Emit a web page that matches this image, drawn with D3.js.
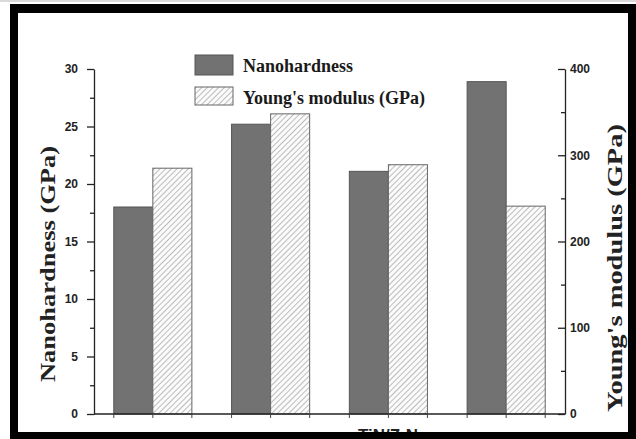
<!DOCTYPE html>
<html><head><meta charset="utf-8">
<script src="https://cdn.jsdelivr.net/npm/d3@7"></script>
<style>html,body{margin:0;padding:0;background:#fff;}svg{display:block;}</style>
</head><body>
<script>
const categories = ["A", "B", "C", "D"];
const nanohardness = [18.0, 25.2, 21.1, 28.9];
const youngsModulus = [285, 348, 289, 241];
const leftTicks = [0, 5, 10, 15, 20, 25, 30];
const rightTicks = [0, 100, 200, 300, 400];
const seriesNames = ["Nanohardness", "Young's modulus (GPa)"];
const xLabel = "TiN/Z-N";
const leftLabel = "Nanohardness (GPa)";
const rightLabel = "Young's modulus (GPa)";

const W = 636, H = 439;
const svg = d3.select("body").append("svg").attr("width", W).attr("height", H);
svg.append("rect").attr("width", W).attr("height", H).attr("fill", "#fff");

const defs = svg.append("defs");
const pat = defs.append("pattern").attr("id", "hatch").attr("patternUnits", "userSpaceOnUse")
  .attr("width", 4).attr("height", 4).attr("patternTransform", "rotate(45)");
pat.append("rect").attr("width", 4).attr("height", 4).attr("fill", "#fbfbfb");
pat.append("line").attr("x1", 0).attr("y1", 0).attr("x2", 0).attr("y2", 4)
  .attr("stroke", "#9a9a9a").attr("stroke-width", 1.3);

const L = 94, R = 565, T = 69, B = 414;
const x = d3.scaleBand().domain(categories).range([L, R]).paddingInner(0.337).paddingOuter(0.168);
const xs = d3.scaleBand().domain([0, 1]).range([0, x.bandwidth()]);
const yL = d3.scaleLinear().domain([0, 30]).range([B, T]);
const yR = d3.scaleLinear().domain([0, 400]).range([B, T]);

const g = svg.append("g");
g.selectAll("rect.nh").data(nanohardness).join("rect").attr("class", "nh")
  .attr("x", (d, i) => x(categories[i]) + xs(0)).attr("width", xs.bandwidth())
  .attr("y", d => yL(d)).attr("height", d => B - yL(d))
  .attr("fill", "#727272").attr("stroke", "#555").attr("stroke-width", 1);
g.selectAll("rect.ym").data(youngsModulus).join("rect").attr("class", "ym")
  .attr("x", (d, i) => x(categories[i]) + xs(1)).attr("width", xs.bandwidth())
  .attr("y", d => yR(d)).attr("height", d => B - yR(d))
  .attr("fill", "url(#hatch)").attr("stroke", "#666").attr("stroke-width", 1);

const axisStyle = sel => {
  sel.selectAll("path,line").attr("stroke", "#222").attr("stroke-width", 1.3);
  sel.selectAll("text").attr("font-family", "Liberation Sans, Arial, sans-serif")
    .attr("font-weight", "bold").attr("font-size", 12).attr("fill", "#222");
};
const la = svg.append("g").attr("transform", `translate(${L},0)`)
  .call(d3.axisLeft(yL).tickValues(leftTicks).tickSize(7).tickPadding(9).tickSizeOuter(0));
la.call(axisStyle);
svg.append("g").attr("transform", `translate(${L},0)`)
  .call(d3.axisLeft(yL).tickValues(d3.range(2.5, 30, 5)).tickSize(4).tickFormat("").tickSizeOuter(0))
  .call(s => s.select("path").remove()).call(axisStyle);
const ra = svg.append("g").attr("transform", `translate(${R},0)`)
  .call(d3.axisRight(yR).tickValues(rightTicks).tickSize(0).tickPadding(5).tickSizeOuter(0));
ra.call(axisStyle);
ra.selectAll(".tick line").attr("x2", -7);
svg.append("g").attr("transform", `translate(${R},0)`)
  .call(d3.axisRight(yR).tickValues(d3.range(50, 400, 100)).tickSize(0).tickFormat("").tickSizeOuter(0))
  .call(s => s.select("path").remove()).call(axisStyle)
  .selectAll(".tick line").attr("x2", -4);
const edges = [];
categories.forEach(c => { edges.push(x(c)); edges.push(x(c) + xs(1)); edges.push(x(c) + x.bandwidth()); });
const xa = svg.append("g").attr("transform", `translate(0,${B})`);
xa.append("line").attr("x1", L).attr("x2", R).attr("y1", 0).attr("y2", 0).attr("stroke", "#222").attr("stroke-width", 1.3);
xa.selectAll("line.t").data(edges).join("line").attr("class", "t")
  .attr("x1", d => d).attr("x2", d => d).attr("y1", 0).attr("y2", 4).attr("stroke", "#444").attr("stroke-width", 1);

svg.append("text").attr("transform", `translate(55,264) rotate(-90)`).attr("text-anchor", "middle")
  .attr("font-family", "Liberation Serif, Times New Roman, serif").attr("font-weight", "bold")
  .attr("font-size", 22).attr("textLength", 236).attr("lengthAdjust", "spacingAndGlyphs")
  .attr("fill", "#222").text(leftLabel);
svg.append("text").attr("transform", `translate(622,268) rotate(-90)`).attr("text-anchor", "middle")
  .attr("font-family", "Liberation Serif, Times New Roman, serif").attr("font-weight", "bold")
  .attr("font-size", 22).attr("textLength", 288).attr("lengthAdjust", "spacingAndGlyphs")
  .attr("fill", "#222").text(rightLabel);
svg.append("text").attr("x", 388).attr("y", 441).attr("text-anchor", "middle")
  .attr("font-family", "Liberation Sans, Arial, sans-serif").attr("font-weight", "bold")
  .attr("font-size", 17).attr("fill", "#222").text(xLabel);

const lg = svg.append("g");
const legY = [55, 87];
lg.selectAll("rect").data(seriesNames).join("rect")
  .attr("x", 195).attr("y", (d, i) => legY[i]).attr("width", 38).attr("height", (d, i) => i === 0 ? 20 : 18)
  .attr("fill", (d, i) => i === 0 ? "#727272" : "url(#hatch)")
  .attr("stroke", (d, i) => i === 0 ? "#555" : "#666");
lg.selectAll("text").data(seriesNames).join("text")
  .attr("x", 243).attr("y", (d, i) => legY[i] + 17)
  .attr("font-family", "Liberation Serif, Times New Roman, serif").attr("font-weight", "bold")
  .attr("font-size", 18).attr("fill", "#1a1a1a").text(d => d);

svg.append("path").attr("fill-rule", "evenodd").attr("fill", "#000")
  .attr("d", `M10,4H${W}V${H}H10Z M18,13H628V432H18Z`);
svg.append("line").attr("x1", 0).attr("x2", W).attr("y1", 1).attr("y2", 1).attr("stroke", "#ccc").attr("stroke-width", 1.5);
</script>
</body></html>
